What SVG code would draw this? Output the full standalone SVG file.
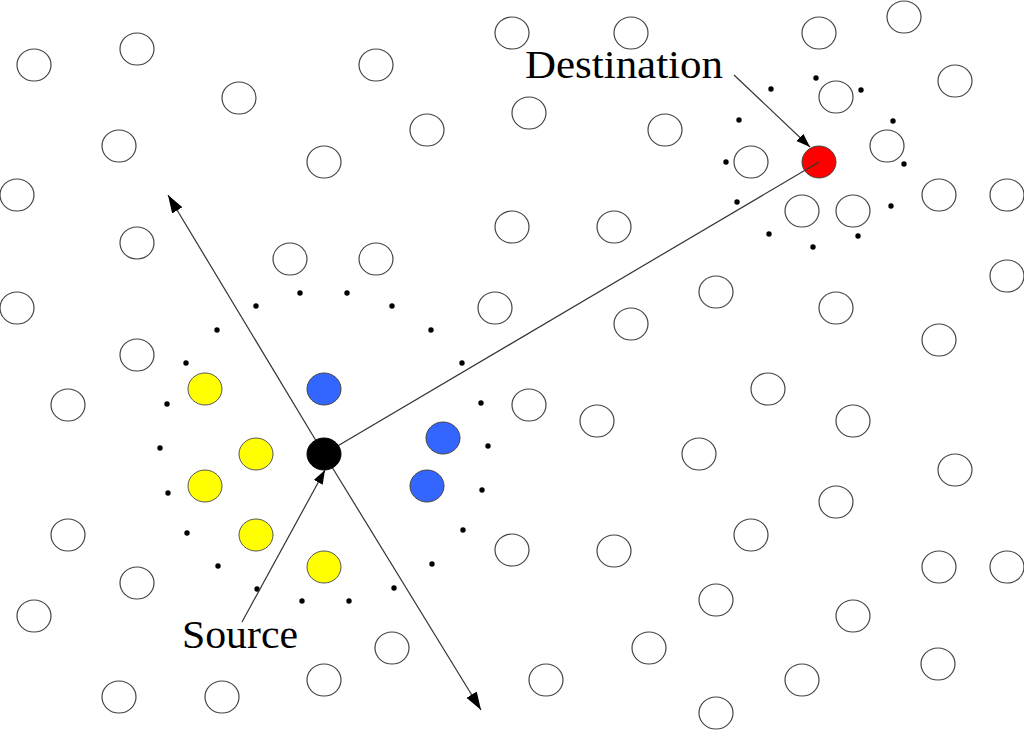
<svg xmlns="http://www.w3.org/2000/svg" width="1024" height="730" viewBox="0 0 1024 730">
<style>
.n{fill:#fff;stroke:#444;stroke-width:1.2}
.y{fill:#ffff00;stroke:#555;stroke-width:1}
.b{fill:#3366ff;stroke:#444;stroke-width:1}
.d{fill:#000}
.l{stroke:#333;stroke-width:1.2;fill:none}
.t{font-family:"Liberation Serif","Times New Roman",serif;font-size:40px;fill:#000}
</style>
<defs>
<marker id="ah" markerUnits="userSpaceOnUse" markerWidth="20" markerHeight="14" refX="18" refY="6" orient="auto"><path d="M0,0 L18,6 L0,12 z" fill="#000"/></marker>
<marker id="ahs" markerUnits="userSpaceOnUse" markerWidth="16" markerHeight="12" refX="14" refY="5" orient="auto"><path d="M0,0 L14,5 L0,10 z" fill="#000"/></marker>
</defs>
<rect width="1024" height="730" fill="#fff"/>
<g id="nodes">
<ellipse class="n" cx="34" cy="65" rx="17" ry="16"/>
<ellipse class="n" cx="137" cy="49" rx="17" ry="16"/>
<ellipse class="n" cx="239" cy="98" rx="17" ry="16"/>
<ellipse class="n" cx="376" cy="65" rx="17" ry="16"/>
<ellipse class="n" cx="427" cy="130" rx="17" ry="16"/>
<ellipse class="n" cx="119" cy="146" rx="17" ry="16"/>
<ellipse class="n" cx="324" cy="162" rx="17" ry="16"/>
<ellipse class="n" cx="17" cy="195" rx="17" ry="16"/>
<ellipse class="n" cx="137" cy="243" rx="17" ry="16"/>
<ellipse class="n" cx="290" cy="259" rx="17" ry="16"/>
<ellipse class="n" cx="376" cy="259" rx="17" ry="16"/>
<ellipse class="n" cx="17" cy="308" rx="17" ry="16"/>
<ellipse class="n" cx="495" cy="308" rx="17" ry="16"/>
<ellipse class="n" cx="137" cy="355" rx="17" ry="16"/>
<ellipse class="n" cx="512" cy="33" rx="17" ry="16"/>
<ellipse class="n" cx="529" cy="113" rx="17" ry="16"/>
<ellipse class="n" cx="512" cy="227" rx="17" ry="16"/>
<ellipse class="n" cx="631" cy="33" rx="17" ry="16"/>
<ellipse class="n" cx="819" cy="33" rx="17" ry="16"/>
<ellipse class="n" cx="904" cy="17" rx="17" ry="16"/>
<ellipse class="n" cx="955" cy="81" rx="17" ry="16"/>
<ellipse class="n" cx="836" cy="97" rx="17" ry="16"/>
<ellipse class="n" cx="665" cy="130" rx="17" ry="16"/>
<ellipse class="n" cx="751" cy="162" rx="17" ry="16"/>
<ellipse class="n" cx="887" cy="146" rx="17" ry="16"/>
<ellipse class="n" cx="939" cy="195" rx="17" ry="16"/>
<ellipse class="n" cx="1007" cy="195" rx="17" ry="16"/>
<ellipse class="n" cx="802" cy="211" rx="17" ry="16"/>
<ellipse class="n" cx="853" cy="211" rx="17" ry="16"/>
<ellipse class="n" cx="614" cy="227" rx="17" ry="16"/>
<ellipse class="n" cx="716" cy="292" rx="17" ry="16"/>
<ellipse class="n" cx="631" cy="324" rx="17" ry="16"/>
<ellipse class="n" cx="836" cy="308" rx="17" ry="16"/>
<ellipse class="n" cx="1007" cy="276" rx="17" ry="16"/>
<ellipse class="n" cx="939" cy="340" rx="17" ry="16"/>
<ellipse class="n" cx="68" cy="405" rx="17" ry="16"/>
<ellipse class="n" cx="68" cy="535" rx="17" ry="16"/>
<ellipse class="n" cx="137" cy="583" rx="17" ry="16"/>
<ellipse class="n" cx="34" cy="616" rx="17" ry="16"/>
<ellipse class="n" cx="392" cy="648" rx="17" ry="16"/>
<ellipse class="n" cx="324" cy="680" rx="17" ry="16"/>
<ellipse class="n" cx="119" cy="697" rx="17" ry="16"/>
<ellipse class="n" cx="222" cy="697" rx="17" ry="16"/>
<ellipse class="n" cx="529" cy="405" rx="17" ry="16"/>
<ellipse class="n" cx="597" cy="421" rx="17" ry="16"/>
<ellipse class="n" cx="768" cy="389" rx="17" ry="16"/>
<ellipse class="n" cx="853" cy="421" rx="17" ry="16"/>
<ellipse class="n" cx="699" cy="454" rx="17" ry="16"/>
<ellipse class="n" cx="955" cy="470" rx="17" ry="16"/>
<ellipse class="n" cx="836" cy="502" rx="17" ry="16"/>
<ellipse class="n" cx="751" cy="535" rx="17" ry="16"/>
<ellipse class="n" cx="512" cy="550" rx="17" ry="16"/>
<ellipse class="n" cx="614" cy="551" rx="17" ry="16"/>
<ellipse class="n" cx="939" cy="567" rx="17" ry="16"/>
<ellipse class="n" cx="1007" cy="567" rx="17" ry="16"/>
<ellipse class="n" cx="716" cy="600" rx="17" ry="16"/>
<ellipse class="n" cx="853" cy="616" rx="17" ry="16"/>
<ellipse class="n" cx="649" cy="648" rx="17" ry="16"/>
<ellipse class="n" cx="546" cy="680" rx="17" ry="16"/>
<ellipse class="n" cx="802" cy="680" rx="17" ry="16"/>
<ellipse class="n" cx="938" cy="664" rx="17" ry="16"/>
<ellipse class="n" cx="716" cy="713" rx="17" ry="16"/>
</g>
<g id="neighbours">
<ellipse class="y" cx="205" cy="389" rx="17" ry="16"/>
<ellipse class="y" cx="256" cy="454" rx="17" ry="16"/>
<ellipse class="y" cx="205" cy="486" rx="17" ry="16"/>
<ellipse class="y" cx="256" cy="535" rx="17" ry="16"/>
<ellipse class="y" cx="324" cy="567" rx="17" ry="16"/>
<ellipse class="b" cx="324" cy="389" rx="17" ry="16"/>
<ellipse class="b" cx="443" cy="438" rx="17" ry="16"/>
<ellipse class="b" cx="427" cy="486" rx="17" ry="16"/>
</g>
<g id="dots">
<circle class="d" cx="300" cy="293" r="2.7"/>
<circle class="d" cx="347" cy="293" r="2.7"/>
<circle class="d" cx="256" cy="306" r="2.7"/>
<circle class="d" cx="392" cy="306" r="2.7"/>
<circle class="d" cx="217" cy="330" r="2.7"/>
<circle class="d" cx="431" cy="330" r="2.7"/>
<circle class="d" cx="186" cy="363" r="2.7"/>
<circle class="d" cx="462" cy="363" r="2.7"/>
<circle class="d" cx="167" cy="404" r="2.7"/>
<circle class="d" cx="160" cy="448" r="2.7"/>
<circle class="d" cx="168" cy="493" r="2.7"/>
<circle class="d" cx="187" cy="533" r="2.7"/>
<circle class="d" cx="218" cy="566" r="2.7"/>
<circle class="d" cx="257" cy="589" r="2.7"/>
<circle class="d" cx="302" cy="601" r="2.7"/>
<circle class="d" cx="349" cy="601" r="2.7"/>
<circle class="d" cx="394" cy="588" r="2.7"/>
<circle class="d" cx="432" cy="564" r="2.7"/>
<circle class="d" cx="463" cy="530" r="2.7"/>
<circle class="d" cx="482" cy="490" r="2.7"/>
<circle class="d" cx="488" cy="446" r="2.7"/>
<circle class="d" cx="481" cy="403" r="2.7"/>
<circle class="d" cx="816" cy="78" r="2.7"/>
<circle class="d" cx="771" cy="89" r="2.7"/>
<circle class="d" cx="861" cy="90" r="2.7"/>
<circle class="d" cx="739" cy="120" r="2.7"/>
<circle class="d" cx="893" cy="121" r="2.7"/>
<circle class="d" cx="726" cy="162" r="2.7"/>
<circle class="d" cx="904" cy="164" r="2.7"/>
<circle class="d" cx="737" cy="202" r="2.7"/>
<circle class="d" cx="891" cy="206" r="2.7"/>
<circle class="d" cx="769" cy="234" r="2.7"/>
<circle class="d" cx="858" cy="236" r="2.7"/>
<circle class="d" cx="813" cy="247" r="2.7"/>
</g>
<g id="destination">
<ellipse cx="819" cy="162" rx="17" ry="16" fill="#ff0000" stroke="#444" stroke-width="1"/>
</g>
<g id="connectors">
<line class="l" x1="324" y1="454" x2="168" y2="195" marker-end="url(#ah)"/>
<line class="l" x1="324" y1="454" x2="481" y2="710" marker-end="url(#ah)"/>
<line class="l" x1="324" y1="454" x2="819" y2="162"/>
<line class="l" x1="734" y1="75" x2="810" y2="147" marker-end="url(#ahs)"/>
<line class="l" x1="242" y1="622" x2="325" y2="470" marker-end="url(#ahs)"/>
</g>
<g id="source">
<ellipse cx="324" cy="454" rx="17" ry="16" fill="#000" stroke="#000" stroke-width="1"/>
</g>
<g id="labels">
<text class="t" x="525" y="78" textLength="198" lengthAdjust="spacingAndGlyphs">Destination</text>
<text class="t" x="182" y="648" textLength="116" lengthAdjust="spacingAndGlyphs">Source</text>
</g>
</svg>
